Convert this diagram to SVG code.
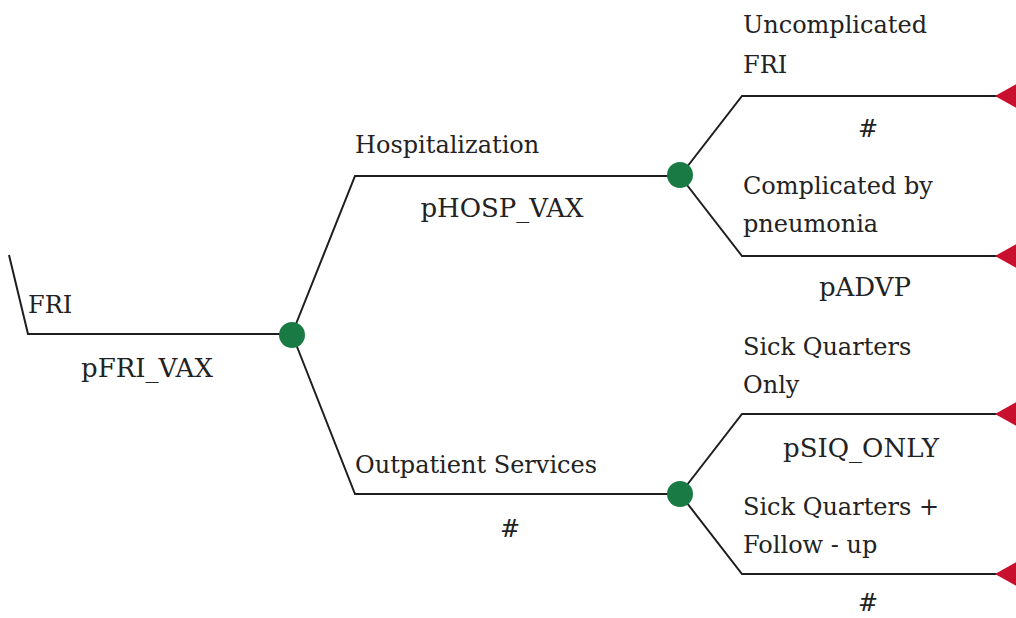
<svg xmlns="http://www.w3.org/2000/svg" width="1016" height="618" viewBox="0 0 1016 618">
<style>
.ln{fill:none;stroke:#1e1e1e;stroke-width:2}
.ch{fill:#1a7a44}
.tm{fill:#c8102e}
.c{text-anchor:middle}
.p{font-size:26px}
</style>
<rect width="1016" height="618" fill="#fff"/>
<g id="connectors">
<polyline class="ln" points="9,255 28,334 292,334"/>
<polyline class="ln" points="292,334 355,176 680,176"/>
<polyline class="ln" points="292,334 355,494 680,494"/>
<polyline class="ln" points="680,176 742,96 1016,96"/>
<polyline class="ln" points="680,176 742,256 1016,256"/>
<polyline class="ln" points="680,494 742,414 1016,414"/>
<polyline class="ln" points="680,494 742,574 1016,574"/>
</g>
<g font-family="'DejaVu Serif', 'Liberation Serif', serif" font-size="24" fill="#222">
<g id="root-branch">
<text x="28" y="313">FRI</text>
<text class="c p" x="147" y="377">pFRI_VAX</text>
</g>
<g id="hosp-branch">
<text x="355" y="153">Hospitalization</text>
<text class="c p" x="502" y="217">pHOSP_VAX</text>
</g>
<g id="outp-branch">
<text x="355" y="473">Outpatient Services</text>
<text class="c" x="510" y="537">#</text>
</g>
<g id="uncomplicated">
<text x="743" y="33">Uncomplicated</text>
<text x="743" y="73">FRI</text>
<text class="c" x="868" y="137">#</text>
</g>
<g id="complicated">
<text x="743" y="194">Complicated by</text>
<text x="743" y="232">pneumonia</text>
<text class="c p" x="865" y="296">pADVP</text>
</g>
<g id="sick-quarters-only">
<text x="743" y="355">Sick Quarters</text>
<text x="743" y="393">Only</text>
<text class="c p" x="861" y="457">pSIQ_ONLY</text>
</g>
<g id="sick-quarters-followup">
<text x="743" y="515">Sick Quarters +</text>
<text x="743" y="553">Follow - up</text>
<text class="c" x="868" y="611">#</text>
</g>
</g>
<g id="chance1"><circle class="ch" cx="292" cy="335" r="13"/></g>
<g id="chance-hosp"><circle class="ch" cx="680" cy="175" r="13"/></g>
<g id="chance-outp"><circle class="ch" cx="680" cy="494" r="13"/></g>
<g id="terminals">
<polygon class="tm" points="995,96 1018,83 1018,109"/>
<polygon class="tm" points="995,256 1018,243 1018,269"/>
<polygon class="tm" points="995,414 1018,401 1018,427"/>
<polygon class="tm" points="995,574 1018,561 1018,587"/>
</g>
</svg>
